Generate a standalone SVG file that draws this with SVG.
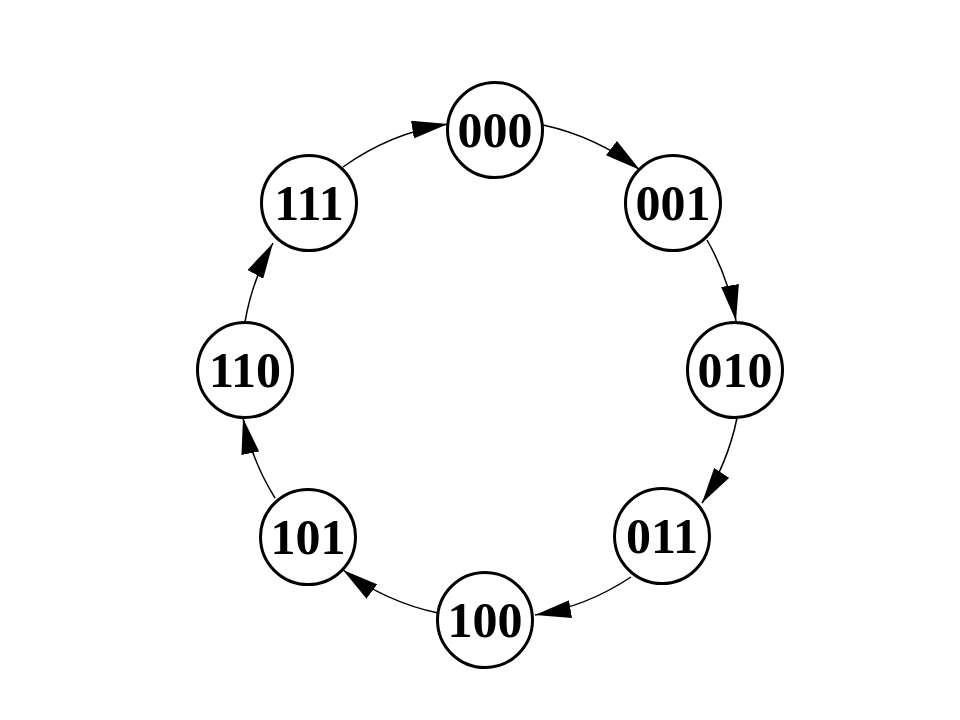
<svg xmlns="http://www.w3.org/2000/svg" width="960" height="720" viewBox="0 0 960 720">
<style>
.node circle{fill:#fff;stroke:#000;stroke-width:3}
.node text{font-family:"Liberation Serif","Times New Roman",serif;font-weight:bold;font-size:50px;fill:#000;text-anchor:middle}
.edge{fill:none;stroke:#000;stroke-width:1.5;marker-end:url(#ah)}
</style>
<defs>
<marker id="ah" viewBox="0 0 36 18" refX="36" refY="9" markerWidth="36" markerHeight="18" markerUnits="userSpaceOnUse" orient="auto">
<path d="M0,0 L36,9 L0,18 z" fill="#000"/>
</marker>
</defs>
<rect width="960" height="720" fill="#fff"/>
<g id="edges">
<path class="edge" d="M543,125 A245,245 0 0 1 640,170"/>
<path class="edge" d="M707,240 A245,245 0 0 1 736,321"/>
<path class="edge" d="M737,418 A245,245 0 0 1 702,503"/>
<path class="edge" d="M631,577 A245,245 0 0 1 535,615"/>
<path class="edge" d="M438,613 A245,245 0 0 1 343,570"/>
<path class="edge" d="M275,498 A245,245 0 0 1 243,418"/>
<path class="edge" d="M245,322 A245,245 0 0 1 273,243"/>
<path class="edge" d="M343,167 A245,245 0 0 1 448,124"/>
</g>
<g id="n000" class="node"><circle cx="495" cy="130" r="47.5"/><text x="495" y="147">000</text></g>
<g id="n001" class="node"><circle cx="673" cy="203" r="47.5"/><text x="673" y="220">001</text></g>
<g id="n010" class="node"><circle cx="735" cy="370" r="47.5"/><text x="735" y="387">010</text></g>
<g id="n011" class="node"><circle cx="662" cy="536" r="47.5"/><text x="662" y="553">011</text></g>
<g id="n100" class="node"><circle cx="485" cy="620" r="47.5"/><text x="485" y="637">100</text></g>
<g id="n101" class="node"><circle cx="308" cy="537" r="47.5"/><text x="308" y="554">101</text></g>
<g id="n110" class="node"><circle cx="245" cy="370" r="47.5"/><text x="245" y="387">110</text></g>
<g id="n111" class="node"><circle cx="309" cy="203" r="47.5"/><text x="309" y="220">111</text></g>
</svg>
